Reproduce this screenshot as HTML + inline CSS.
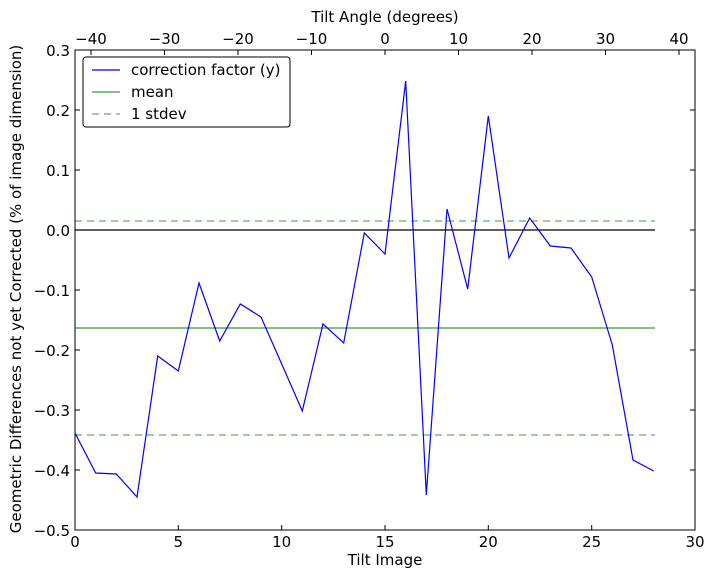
<!DOCTYPE html>
<html><head><meta charset="utf-8"><style>body{margin:0;background:#fff}svg{display:block}text{font-family:"DejaVu Sans","Liberation Sans",sans-serif;font-size:15px;fill:#000}</style></head><body>
<svg width="714" height="579" xmlns="http://www.w3.org/2000/svg">
<rect x="0" y="0" width="714" height="579" fill="#fff"/>
<g stroke-width="1.2" fill="none">
<line x1="75" y1="230" x2="655" y2="230" stroke="#000"/>
<line x1="75" y1="328" x2="655" y2="328" stroke="#3a9a3a"/>
<line x1="75" y1="221" x2="655" y2="221" stroke="#6aaa6a" stroke-dasharray="7,5"/>
<line x1="75" y1="435" x2="655" y2="435" stroke="#6aaa6a" stroke-dasharray="7,5"/>
<polyline stroke="#0000ff" points="75,433 95.7,473 116.3,474 137,497 157.7,356 178.3,371 199,283 219.7,341 240.3,304 261,317 281.7,364 302.3,411 323,324 343.7,343 364.3,233 385,254 405.7,81 426.3,495 447,209 467.7,289 488.3,116 509,258 529.7,218 550.3,246 571,248 591.7,277 612.3,345 633,460 653.7,471"/>
</g>
<rect x="75" y="50" width="620" height="480" fill="none" stroke="#000" stroke-width="1"/>
<g stroke="#000" stroke-width="1">
<path d="M75,530v-5M178.3,530v-5M281.7,530v-5M385,530v-5M488.3,530v-5M591.7,530v-5M695,530v-5"/>
<path d="M75,50h5M75,110h5M75,170h5M75,230h5M75,290h5M75,350h5M75,410h5M75,470h5M75,530h5"/>
<path d="M695,50h-5M695,110h-5M695,170h-5M695,230h-5M695,290h-5M695,350h-5M695,410h-5M695,470h-5M695,530h-5"/>
<path d="M91,50v5M164.5,50v5M238,50v5M311.5,50v5M385,50v5M458.5,50v5M532,50v5M605.5,50v5M679,50v5"/>
</g>
<g text-anchor="middle">
<text x="75" y="547">0</text><text x="178.3" y="547">5</text><text x="281.7" y="547">10</text><text x="385" y="547">15</text><text x="488.3" y="547">20</text><text x="591.7" y="547">25</text><text x="695" y="547">30</text>
<text x="385" y="565">Tilt Image</text>
<text x="91" y="44">−40</text><text x="164.5" y="44">−30</text><text x="238" y="44">−20</text><text x="311.5" y="44">−10</text><text x="385" y="44">0</text><text x="458.5" y="44">10</text><text x="532" y="44">20</text><text x="605.5" y="44">30</text><text x="679" y="44">40</text>
<text x="385" y="22">Tilt Angle (degrees)</text>
</g>
<g text-anchor="end">
<text x="70" y="56">0.3</text><text x="70" y="116">0.2</text><text x="70" y="176">0.1</text><text x="70" y="236">0.0</text><text x="70" y="296">−0.1</text><text x="70" y="356">−0.2</text><text x="70" y="416">−0.3</text><text x="70" y="476">−0.4</text><text x="70" y="536">−0.5</text>
</g>
<text transform="translate(21,289) rotate(-90)" text-anchor="middle">Geometric Differences not yet Corrected (% of image dimension)</text>
<rect x="83" y="57" width="207" height="70" rx="3" fill="#fff" stroke="#000"/>
<line x1="92" y1="70" x2="120" y2="70" stroke="#0000ff" stroke-width="1.2"/>
<line x1="92" y1="92" x2="120" y2="92" stroke="#3a9a3a" stroke-width="1.2"/>
<line x1="92" y1="114" x2="120" y2="114" stroke="#6aaa6a" stroke-width="1.2" stroke-dasharray="7,5"/>
<text x="131" y="75">correction factor (y)</text>
<text x="131" y="97">mean</text>
<text x="131" y="119">1 stdev</text>
</svg>
</body></html>
